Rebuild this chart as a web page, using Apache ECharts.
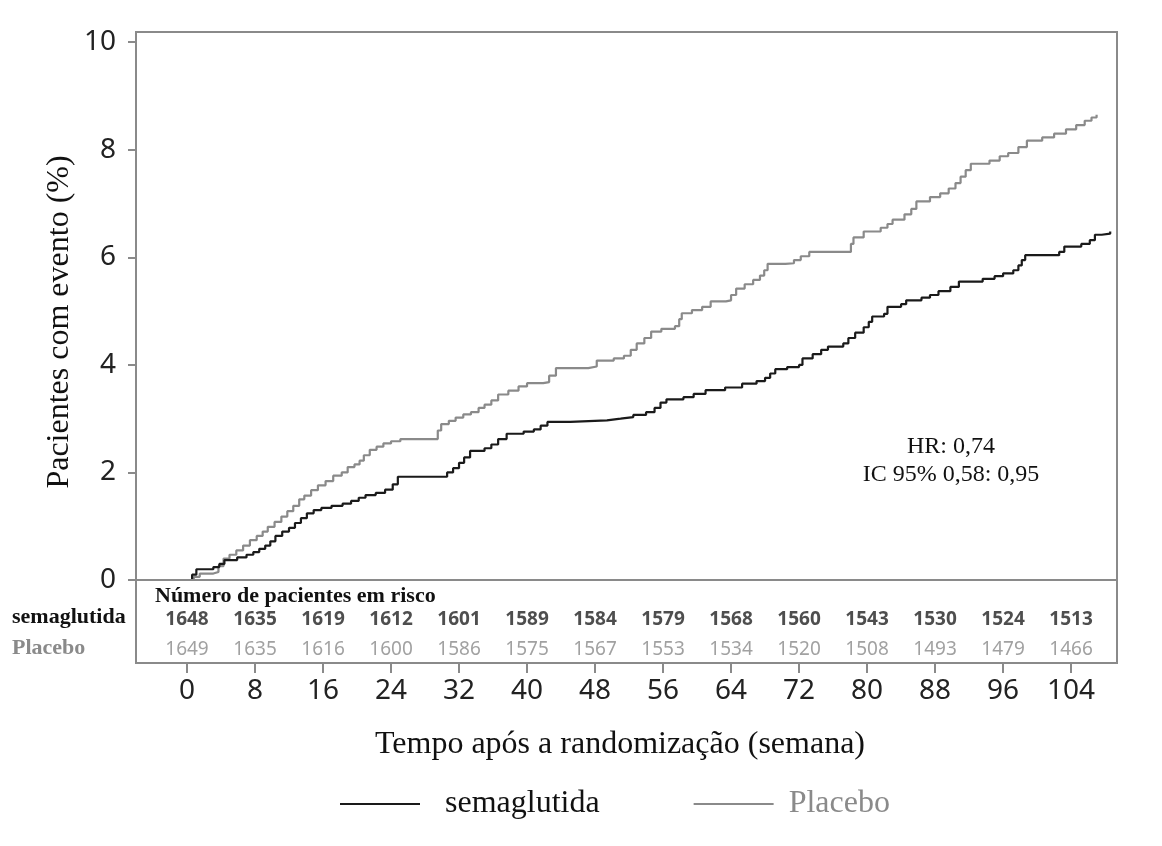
<!DOCTYPE html>
<html>
<head>
<meta charset="utf-8">
<script src="https://cdn.jsdelivr.net/npm/echarts@6.0.0/dist/echarts.min.js"></script>
<style>
  html, body { margin: 0; padding: 0; background: #fff; }
  #main { width: 1162px; height: 846px; }
</style>
</head>
<body>
<div id="main"></div>
<script>
// curvas (semana, % de pacientes com evento)
var semaPoints = [
    [0, 0], [0.6, 0.1], [1.1, 0.2], [3.1, 0.24], [3.8, 0.3], [4.4, 0.37], [5.9, 0.42],
    [7.0, 0.47], [7.8, 0.52], [8.5, 0.58], [9.2, 0.64], [9.8, 0.72], [10.4, 0.82],
    [11.2, 0.9], [12.0, 0.97], [12.7, 1.06], [13.4, 1.15], [14.1, 1.24], [14.9, 1.3],
    [15.8, 1.34], [17.0, 1.38], [18.3, 1.42], [19.3, 1.47], [20.2, 1.53], [21.0, 1.58],
    [22.2, 1.62], [23.3, 1.68], [24.2, 1.78], [24.8, 1.92], [29.8, 1.92], [30.6, 2.0],
    [31.3, 2.08], [32.0, 2.18], [32.6, 2.28], [33.3, 2.4], [35.0, 2.45], [35.8, 2.52],
    [36.6, 2.62], [37.6, 2.72], [39.6, 2.76], [40.8, 2.8], [41.6, 2.87], [42.4, 2.94],
    [45.1, 2.97], [49.4, 3.0], [51.0, 3.03], [52.5, 3.07], [54.0, 3.12], [55.0, 3.2],
    [55.7, 3.3], [56.4, 3.36], [58.4, 3.4], [59.6, 3.46], [61.0, 3.53], [63.3, 3.58],
    [65.3, 3.65], [67.0, 3.7], [68.0, 3.76], [68.6, 3.84], [69.2, 3.92], [70.6, 3.96],
    [72.0, 4.0], [72.4, 4.12], [73.6, 4.2], [74.6, 4.28], [75.4, 4.34], [77.2, 4.4],
    [77.8, 4.5], [78.6, 4.6], [79.6, 4.7], [80.2, 4.8], [80.6, 4.9], [82.0, 4.95],
    [82.4, 5.08], [84.0, 5.13], [84.6, 5.2], [86.4, 5.25], [87.4, 5.3], [88.4, 5.37],
    [89.8, 5.45], [90.8, 5.55], [93.6, 5.6], [95.0, 5.65], [96.0, 5.7], [97.2, 5.76],
    [97.8, 5.85], [98.2, 5.95], [98.6, 6.04], [102.6, 6.1], [103.2, 6.2], [105.2, 6.25],
    [106.2, 6.32], [106.8, 6.42], [107.6, 6.44], [108.6, 6.48]
];
var placeboPoints = [
    [0, 0], [0.8, 0.06], [1.5, 0.12], [3.1, 0.15], [3.7, 0.26], [4.3, 0.4], [5.0, 0.47],
    [5.8, 0.55], [6.6, 0.64], [7.4, 0.74], [8.2, 0.82], [8.9, 0.9], [9.5, 0.99],
    [10.3, 1.08], [11.1, 1.18], [11.8, 1.28], [12.5, 1.38], [13.2, 1.5], [13.8, 1.57],
    [14.6, 1.67], [15.4, 1.76], [16.3, 1.84], [17.2, 1.94], [18.2, 2.0], [18.9, 2.1],
    [19.7, 2.15], [20.3, 2.22], [20.8, 2.32], [21.5, 2.42], [22.3, 2.48], [23.1, 2.54],
    [24.0, 2.58], [25.1, 2.62], [29.0, 2.62], [29.5, 2.78], [29.9, 2.9], [30.8, 2.96],
    [31.6, 3.02], [32.5, 3.08], [33.4, 3.12], [34.3, 3.2], [35.0, 3.26], [35.8, 3.34],
    [36.6, 3.45], [37.8, 3.52], [39.0, 3.6], [40.0, 3.66], [41.9, 3.68], [42.6, 3.8],
    [43.4, 3.94], [47.2, 3.97], [48.2, 4.08], [50.2, 4.12], [51.4, 4.17], [52.2, 4.28],
    [52.9, 4.4], [53.8, 4.5], [54.6, 4.62], [55.8, 4.67], [57.4, 4.72], [57.9, 4.85],
    [58.2, 4.96], [59.4, 5.02], [60.6, 5.08], [61.6, 5.18], [63.4, 5.2], [64.0, 5.3],
    [64.6, 5.42], [65.6, 5.5], [66.6, 5.58], [67.4, 5.66], [67.9, 5.76], [68.3, 5.88],
    [70.4, 5.89], [71.4, 5.95], [72.2, 6.02], [73.2, 6.1], [77.8, 6.1], [78.1, 6.25],
    [78.4, 6.37], [79.6, 6.48], [81.6, 6.55], [82.4, 6.62], [83.0, 6.7], [84.4, 6.8],
    [85.2, 6.9], [85.8, 7.04], [87.4, 7.12], [88.6, 7.19], [89.6, 7.28], [90.4, 7.38],
    [91.0, 7.5], [91.6, 7.62], [92.2, 7.74], [94.4, 7.8], [95.6, 7.88], [96.6, 7.94],
    [97.8, 8.05], [98.8, 8.17], [100.6, 8.23], [102.0, 8.3], [103.4, 8.38], [104.6, 8.46],
    [105.6, 8.54], [106.4, 8.6], [107.0, 8.65]
];

// eixos
var xTicks = [0, 8, 16, 24, 32, 40, 48, 56, 64, 72, 80, 88, 96, 104];
var yTicks = [0, 2, 4, 6, 8, 10];

// numero de pacientes em risco
var semaRisk = [1648, 1635, 1619, 1612, 1601, 1589, 1584, 1579, 1568, 1560, 1543, 1530, 1524, 1513];
var placeboRisk = [1649, 1635, 1616, 1600, 1586, 1575, 1567, 1553, 1534, 1520, 1508, 1493, 1479, 1466];

var SERIF = '"Liberation Serif", "Times New Roman", serif';
var SANS = '"Noto Sans", "Open Sans", sans-serif';
var GRAY = '#8a8a8a';

var myChart = echarts.init(document.getElementById('main'));

// linhas da tabela em risco (em unidades do eixo y, abaixo de 0)
function riskRow(values, yPos) {
    return xTicks.map(function (w, i) {
        return [w, yPos, values[i]];
    });
}

var option = {
    animation: false,
    grid: {
        left: 136,
        right: 45,
        top: 32,
        bottom: 183,
        show: true,
        borderColor: GRAY,
        borderWidth: 2,
        backgroundColor: '#fff'
    },
    xAxis: {
        type: 'value',
        min: -6,
        max: 109.4,
        position: 'bottom',
        axisLine: {show: false, onZero: false},
        splitLine: {show: false},
        axisTick: {
            show: true,
            customValues: xTicks,
            length: 10,
            lineStyle: {color: GRAY, width: 2}
        },
        axisLabel: {
            customValues: xTicks,
            margin: 14,
            fontFamily: SANS,
            fontSize: 28,
            color: '#222'
        }
    },
    yAxis: {
        type: 'value',
        min: -1.543,
        max: 10.19,
        position: 'left',
        axisLine: {show: false, onZero: false},
        splitLine: {show: false},
        axisTick: {
            show: true,
            customValues: yTicks,
            length: 8,
            lineStyle: {color: GRAY, width: 2}
        },
        axisLabel: {
            customValues: yTicks,
            margin: 20,
            fontFamily: SANS,
            fontSize: 28,
            color: '#222'
        }
    },
    legend: {
        left: 335,
        top: 783,
        icon: 'rect',
        itemWidth: 80,
        itemHeight: 2,
        itemGap: 94,
        textStyle: {
            fontFamily: SERIF,
            fontSize: 32
        },
        data: [
            {name: 'semaglutida', textStyle: {color: '#111', padding: [0, 0, 0, 20]}},
            {name: 'Placebo', textStyle: {color: GRAY, padding: [0, 0, 0, 10]}}
        ]
    },
    series: [
        {
            name: 'Placebo',
            type: 'line',
            step: 'end',
            symbol: 'none',
            data: placeboPoints,
            lineStyle: {color: GRAY, width: 2.2},
            itemStyle: {color: GRAY},
            markLine: {
                silent: true,
                symbol: 'none',
                label: {show: false},
                lineStyle: {color: GRAY, width: 2, type: 'solid'},
                data: [{yAxis: 0}]
            },
            z: 3
        },
        {
            name: 'semaglutida',
            type: 'line',
            step: 'end',
            symbol: 'none',
            data: semaPoints,
            lineStyle: {color: '#1a1a1a', width: 2.2},
            itemStyle: {color: '#1a1a1a'},
            z: 4
        },
        {
            name: 'risco semaglutida',
            type: 'scatter',
            symbolSize: 0,
            data: riskRow(semaRisk, -0.743),
            label: {
                show: true,
                position: 'inside',
                formatter: function (p) { return p.data[2]; },
                fontFamily: SANS,
                fontWeight: 'bold',
                fontSize: 19,
                color: '#222'
            },
            silent: true
        },
        {
            name: 'risco placebo',
            type: 'scatter',
            symbolSize: 0,
            data: riskRow(placeboRisk, -1.3),
            label: {
                show: true,
                position: 'inside',
                formatter: function (p) { return p.data[2]; },
                fontFamily: SANS,
                fontSize: 19,
                color: GRAY
            },
            silent: true
        }
    ],
    graphic: [
        {
            type: 'text',
            x: 60, y: 322,
            rotation: Math.PI / 2,
            style: {
                text: 'Pacientes com evento (%)',
                font: '32px ' + SERIF,
                fill: '#111',
                textAlign: 'center',
                textVerticalAlign: 'middle'
            }
        },
        {
            type: 'text',
            x: 620, y: 745,
            style: {
                text: 'Tempo após a randomização (semana)',
                font: '32px ' + SERIF,
                fill: '#111',
                textAlign: 'center',
                textVerticalAlign: 'middle'
            }
        },
        {
            type: 'text',
            x: 155, y: 596,
            style: {
                text: 'Número de pacientes em risco',
                font: 'bold 22px ' + SERIF,
                fill: '#111',
                textAlign: 'left',
                textVerticalAlign: 'middle'
            }
        },
        {
            type: 'text',
            x: 12, y: 617,
            style: {
                text: 'semaglutida',
                font: 'bold 22px ' + SERIF,
                fill: '#111',
                textAlign: 'left',
                textVerticalAlign: 'middle'
            }
        },
        {
            type: 'text',
            x: 12, y: 648,
            style: {
                text: 'Placebo',
                font: 'bold 22px ' + SERIF,
                fill: GRAY,
                textAlign: 'left',
                textVerticalAlign: 'middle'
            }
        },
        {
            type: 'text',
            x: 951, y: 447,
            style: {
                text: 'HR: 0,74',
                font: '24px ' + SERIF,
                fill: '#111',
                textAlign: 'center',
                textVerticalAlign: 'middle'
            }
        },
        {
            type: 'text',
            x: 951, y: 475,
            style: {
                text: 'IC 95% 0,58: 0,95',
                font: '24px ' + SERIF,
                fill: '#111',
                textAlign: 'center',
                textVerticalAlign: 'middle'
            }
        }
    ]
};

myChart.setOption(option);
</script>
</body>
</html>
